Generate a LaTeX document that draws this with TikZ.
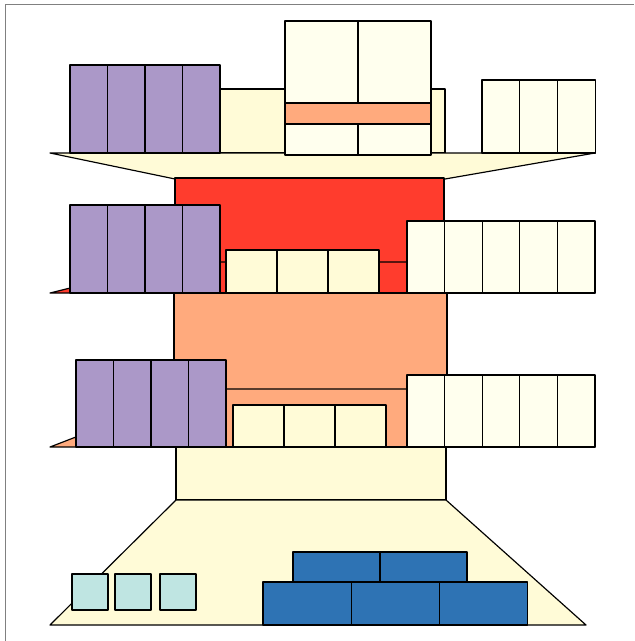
\documentclass[tikz,border=0pt]{standalone}
\usepackage{tikz}
\usetikzlibrary{positioning}
\definecolor{floorc}{RGB}{255,251,215}
\definecolor{paper}{RGB}{255,255,238}
\definecolor{lilac}{RGB}{171,152,200}
\definecolor{brick}{RGB}{255,60,45}
\definecolor{salmon}{RGB}{255,170,125}
\definecolor{steel}{RGB}{46,115,180}
\definecolor{mint}{RGB}{191,229,226}

\tikzset{part/.style={draw=black, line width=1pt, line join=round}}

\begin{document}
\begin{tikzpicture}[x=0.03cm, y=-0.03cm]
    \useasboundingbox (0,0) rectangle (634,641);
    \draw[gray, line width=0.8pt] (5,641) -- (5,4) -- (634,4);

    % Top level
    \draw[part, fill=floorc] (220,89) rectangle (445,153);
    \draw[part, fill=floorc] (50,153) -- (595,153) -- (445,179) -- (175,179) -- cycle;
    \foreach \i in {0,...,3}
        \draw[part, fill=lilac] ({70+37.5*\i},65) rectangle ++(37.5,88);
    \draw[part, fill=paper] (285,21) rectangle (358,103);
    \draw[part, fill=paper] (358,21) rectangle (431,103);
    \draw[part, fill=salmon] (285,103) rectangle (431,124);
    \draw[part, fill=paper] (285,124) rectangle (358,155);
    \draw[part, fill=paper] (358,124) rectangle (431,155);
    \foreach \i in {0,...,2}
        \draw[part, fill=paper] ({482+37.7*\i},80) rectangle ++(37.7,73);

    % Second level
    \draw[part, fill=brick] (175,178) rectangle (444,293);
    \draw[part, fill=brick] (50,293) -- (595,293) -- (445,262) -- (175,262) -- cycle;
    \foreach \i in {0,...,3}
        \draw[part, fill=lilac] ({70+37.5*\i},205) rectangle ++(37.5,88);
    \foreach \i in {0,...,2}
        \draw[part, fill=floorc] ({226+51*\i},250) rectangle ++(51,43);
    \foreach \i in {0,...,4}
        \draw[part, fill=paper] ({407+37.6*\i},221) rectangle ++(37.6,72);

    % Third level
    \draw[part, fill=salmon] (174,293) rectangle (447,447);
    \draw[part, fill=salmon] (50,447) -- (595,447) -- (445,389) -- (200,389) -- cycle;
    \foreach \i in {0,...,3}
        \draw[part, fill=lilac] ({76+37.5*\i},360) rectangle ++(37.5,87);
    \foreach \i in {0,...,2}
        \draw[part, fill=floorc] ({233+51*\i},405) rectangle ++(51,42);
    \foreach \i in {0,...,4}
        \draw[part, fill=paper] ({407+37.6*\i},375) rectangle ++(37.6,72);

    % Base
    \draw[part, fill=floorc] (176,447) rectangle (446,500);
    \draw[part, fill=floorc] (176,500) -- (446,500) -- (586,625) -- (50,625) -- cycle;
    \foreach \x in {72,115,160}
        \draw[part, fill=mint] (\x,574) rectangle ++(36,36);
    \foreach \i in {0,...,2}
        \draw[part, fill=steel] ({263+88.3*\i},582) rectangle ++(88.3,43);
    \foreach \i in {0,1}
        \draw[part, fill=steel] ({293+87*\i},552) rectangle ++(87,30);
\end{tikzpicture}
\end{document}
